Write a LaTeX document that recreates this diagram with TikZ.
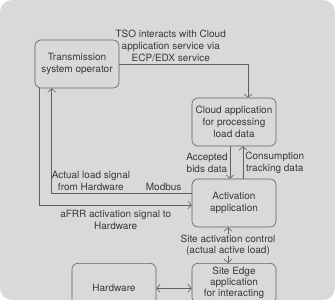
\documentclass[tikz,border=0pt]{standalone}
\usepackage{fontspec}
\setmainfont{TeX Gyre Heros}
\usetikzlibrary{arrows.meta}

\definecolor{panel}{gray}{0.85}
\definecolor{ink}{gray}{0.38}
\definecolor{txt}{gray}{0.22}

\tikzset{
    box/.style={draw=ink, fill=panel, rounded corners=6pt, minimum width=84pt,
        minimum height=48pt, align=center, text=txt},
    lbl/.style={align=center, text=txt, inner sep=2pt}
}

\begin{document}
\begin{tikzpicture}[x=1pt, y=-1pt, >={Straight Barb[length=3.5pt, width=8pt]},
    font=\fontsize{10}{12}\selectfont, line width=0.6pt]
    \useasboundingbox (0,0) rectangle (335,300);
    \begin{scope}
    \clip[rounded corners=12pt] (0,0) rectangle (335,300);
    \fill[panel] (0,0) rectangle (335,300);

    \node[box] (tso) at (77,64) {Transmission\\system operator};
    \node[box] (cloud) at (234,122) {Cloud application\\for processing\\load data};
    \node[box] (activation) at (234,203) {Activation\\application};
    \node[box, anchor=north, minimum height=50pt] (hardware) at (114,263) {Hardware};
    \node[box, anchor=north, minimum height=40pt, font=\fontsize{10}{11}\selectfont]
        (edge) at (234,263) {Site Edge\\application\\for interacting};

    \draw[->, ink] (tso.east) -| node[lbl, above, pos=0.2]
        {TSO interacts with Cloud\\application service via\\ECP/EDX service}
        ([xshift=14pt]cloud.north);
    \draw[->, ink] ([xshift=-4pt]cloud.south) -- node[lbl, left]
        {Accepted\\bids data} ([xshift=-4pt]activation.north);
    \draw[->, ink] ([xshift=9pt]activation.north) -- node[lbl, right]
        {Consumption\\tracking data} ([xshift=9pt]cloud.south);
    \draw[->, ink] ([xshift=5pt]tso.south west) |- node[lbl, below=3pt, pos=0.75]
        {aFRR activation signal to\\Hardware} ([yshift=-2pt]activation.west);
    \draw[->, ink] ([yshift=10pt]activation.west) -| node[lbl, above, pos=0.36]
        {Actual load signal\\from Hardware} node[lbl, above, pos=0.1] {Modbus}
        ([xshift=17pt]tso.south west);
    \draw[<->, ink] ([xshift=-6pt]activation.south) -- node[lbl, fill=panel, inner sep=0.5pt,
        font=\fontsize{10}{11}\selectfont] {Site activation control\\(actual active load)}
        ([xshift=-6pt]edge.north);
    \draw[<->, ink] (hardware.east) -- (hardware.east -| edge.west);
    \end{scope}
\end{tikzpicture}
\end{document}
